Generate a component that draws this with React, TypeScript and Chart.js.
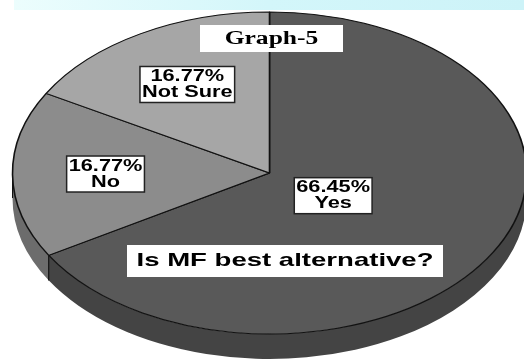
import { useEffect, useRef } from 'react';
import { Chart, registerables } from 'chart.js';
Chart.register(...registerables);

const categories = ['Yes', 'No', 'Not Sure'];
const shares = [66.45, 16.77, 16.77];
const percentLabels = ['66.45%', '16.77%', '16.77%'];
const topColors = ['#595959', '#8c8c8c', '#a6a6a6'];
const sideColors = ['#444444', '#6c6c6c', '#7d7d7d'];
const chartTitle = 'Graph-5';
const question = 'Is MF best alternative?';

const SX = 257 / 161;
const DEPTH = 25;
const LABEL_STRETCH = 1.28;
const LABEL_RADII = [0.285, 0.638, 0.636];

function drawStretched(ctx: CanvasRenderingContext2D, text: string, x: number, y: number, font: string, stretch: number) {
  ctx.save();
  ctx.translate(x, y);
  ctx.scale(stretch, 1);
  ctx.font = font;
  ctx.textAlign = 'center';
  ctx.textBaseline = 'middle';
  ctx.fillStyle = '#000';
  ctx.fillText(text, 0, 0);
  ctx.restore();
}

const pie3d = {
  id: 'pie3d',
  beforeDraw(chart: any) {
    const ctx = chart.ctx as CanvasRenderingContext2D;
    ctx.save();
    ctx.fillStyle = '#ffffff';
    ctx.fillRect(0, 0, chart.width, chart.height);
    const g = ctx.createLinearGradient(14, 0, 524, 0);
    g.addColorStop(0, '#ecfdfd');
    g.addColorStop(0.5, '#d3f6fa');
    g.addColorStop(1, '#cdf3f8');
    ctx.fillStyle = g;
    ctx.fillRect(14, 0, 510, 10);
    ctx.restore();
  },
  beforeDatasetsDraw(chart: any) {
    const ctx = chart.ctx as CanvasRenderingContext2D;
    const arcs = chart.getDatasetMeta(0).data;
    let cx = 0;
    arcs.forEach((arc: any, i: number) => {
      const p = arc.getProps(['x', 'y', 'startAngle', 'endAngle', 'outerRadius'], true);
      cx = p.x;
      const a0 = Math.max(p.startAngle, 0);
      const a1 = Math.min(p.endAngle, Math.PI);
      if (a1 <= a0) return;
      const rx = p.outerRadius * SX;
      const ry = p.outerRadius;
      ctx.save();
      ctx.beginPath();
      ctx.ellipse(p.x, p.y, rx, ry, 0, a0, a1);
      ctx.ellipse(p.x, p.y + DEPTH, rx, ry, 0, a1, a0, true);
      ctx.closePath();
      ctx.fillStyle = sideColors[i];
      ctx.fill();
      ctx.strokeStyle = '#111';
      ctx.lineWidth = 1;
      // vertical edges of side
      [a0, a1].forEach((a) => {
        if (a > 0.01 && a < Math.PI + 0.001) {
          const ex = p.x + rx * Math.cos(a);
          const ey = p.y + ry * Math.sin(a);
          ctx.beginPath();
          ctx.moveTo(ex, ey);
          ctx.lineTo(ex, ey + DEPTH);
          ctx.stroke();
        }
      });
      ctx.restore();
    });
    ctx.save();
    ctx.translate(cx, 0);
    ctx.scale(SX, 1);
    ctx.translate(-cx, 0);
  },
  afterDatasetsDraw(chart: any) {
    chart.ctx.restore();
  },
  afterDraw(chart: any) {
    const ctx = chart.ctx as CanvasRenderingContext2D;
    const arcs = chart.getDatasetMeta(0).data;
    const labelFont = 'bold 17px "Liberation Sans", Arial, sans-serif';
    arcs.forEach((arc: any, i: number) => {
      const p = arc.getProps(['x', 'y', 'startAngle', 'endAngle', 'outerRadius'], true);
      const mid = (p.startAngle + p.endAngle) / 2;
      const f = LABEL_RADII[i];
      const lx = p.x + Math.cos(mid) * p.outerRadius * SX * f;
      const ly = p.y + Math.sin(mid) * p.outerRadius * f;
      ctx.save();
      ctx.font = labelFont;
      const w = Math.max(ctx.measureText(percentLabels[i]).width, ctx.measureText(categories[i]).width) * LABEL_STRETCH + 4;
      const h = 36;
      ctx.fillStyle = '#ffffff';
      ctx.fillRect(lx - w / 2, ly - h / 2, w, h);
      ctx.strokeStyle = '#222';
      ctx.lineWidth = 1.5;
      ctx.strokeRect(lx - w / 2, ly - h / 2, w, h);
      ctx.restore();
      drawStretched(ctx, percentLabels[i], lx, ly - 8, labelFont, LABEL_STRETCH);
      drawStretched(ctx, categories[i], lx, ly + 8, labelFont, LABEL_STRETCH);
    });

    // Graph title box
    ctx.save();
    ctx.fillStyle = '#ffffff';
    ctx.fillRect(200, 25, 143, 27);
    ctx.fillRect(127, 245, 316, 32);
    ctx.restore();
    drawStretched(ctx, chartTitle, 271.5, 39, 'bold 18px "Liberation Serif", "Times New Roman", serif', 1.42);
    drawStretched(ctx, question, 285, 261, 'bold 19px "Liberation Sans", Arial, sans-serif', 1.45);
  },
};

export default function App() {
  const ref = useRef<HTMLCanvasElement | null>(null);
  useEffect(() => {
    if (!ref.current) return;
    const chart = new Chart(ref.current, {
      type: 'pie',
      data: {
        labels: categories,
        datasets: [
          {
            data: shares,
            backgroundColor: topColors,
            borderColor: '#111111',
            borderWidth: 1,
          },
        ],
      },
      options: {
        responsive: false,
        animation: false,
        devicePixelRatio: 1,
        layout: { padding: { top: 11.5, bottom: 25.5, left: 15, right: 0 } },
        plugins: { legend: { display: false }, tooltip: { enabled: false }, title: { display: false } },
      },
      plugins: [pie3d],
    });
    return () => chart.destroy();
  }, []);
  return (
    <div style={{ position: 'absolute', left: 0, top: 0, width: 524, height: 360, background: '#fff' }}>
      <canvas ref={ref} width={524} height={360} style={{ width: 524, height: 360, display: 'block' }} />
    </div>
  );
}
